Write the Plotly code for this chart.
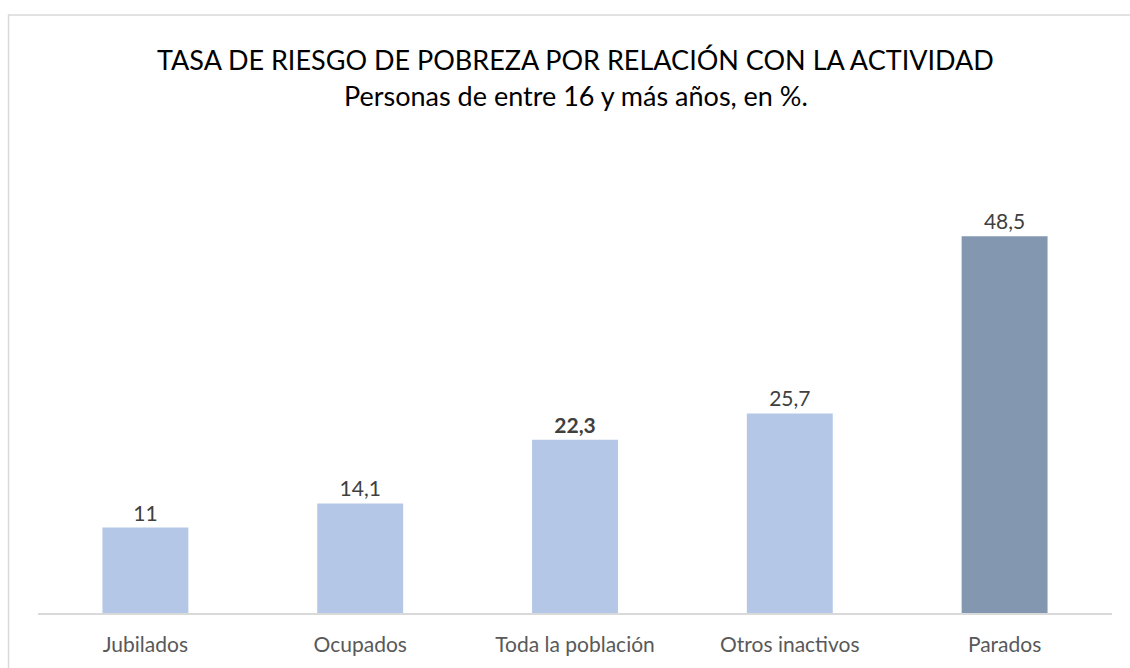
import plotly.graph_objects as go

categories = ["Jubilados", "Ocupados", "Toda la población", "Otros inactivos", "Parados"]
values = [11, 14.1, 22.3, 25.7, 48.5]
colors = ["#B4C7E7", "#B4C7E7", "#B4C7E7", "#B4C7E7", "#8497B0"]
bold = [False, False, True, False, False]

def fmt(v):
    s = (f"{v:g}").replace(".", ",")
    return s

labels = [f"<b>{fmt(v)}</b>" if b else fmt(v) for v, b in zip(values, bold)]

FONT = "Lato"

fig = go.Figure(go.Bar(
    x=categories, y=values, marker=dict(color=colors, line=dict(width=0)),
    text=labels, textposition="outside", cliponaxis=False,
    textfont=dict(family=FONT, size=21, color="#404040"),
))

W, H = 1130, 668
L, R, T, B = 37.5, 17.5, 147, 55
pw = W - L - R
ph = H - T - B

fig.update_layout(
    width=W, height=H,
    margin=dict(l=L, r=R, t=T, b=B, pad=0),
    paper_bgcolor="white", plot_bgcolor="white",
    bargap=0.6, showlegend=False,
    font=dict(family=FONT),
    xaxis=dict(showline=True, linecolor="#D9D9D9", linewidth=1.5, ticks="",
               ticklabelstandoff=12,
               tickfont=dict(family=FONT, size=21, color="#595959"), fixedrange=True),
    yaxis=dict(range=[0, 60], visible=False, showgrid=False, zeroline=False),
    shapes=[dict(type="rect", xref="paper", yref="paper",
                 x0=(8 - L) / pw, x1=(W + 20 - L) / pw,
                 y0=-(H + 20 - T - ph) / ph, y1=(H - B - 15) / ph,
                 line=dict(color="#D9D9D9", width=1.5), fillcolor="rgba(0,0,0,0)", layer="below")],
    annotations=[
        dict(text="TASA DE RIESGO DE POBREZA POR RELACIÓN CON LA ACTIVIDAD",
             xref="paper", yref="paper", x=(576 - L) / pw, y=(H - B - 60) / ph,
             xanchor="center", yanchor="middle", showarrow=False,
             font=dict(family=FONT, size=27, color="#000000")),
        dict(text="Personas de entre 16 y más años, en %.",
             xref="paper", yref="paper", x=(576 - L) / pw, y=(H - B - 96) / ph,
             xanchor="center", yanchor="middle", showarrow=False,
             font=dict(family=FONT, size=27, color="#000000")),
    ],
)

fig.write_html("out.html", config={"displayModeBar": False, "staticPlot": True},
               post_script="document.body.style.margin='0';document.body.style.overflow='hidden';")
